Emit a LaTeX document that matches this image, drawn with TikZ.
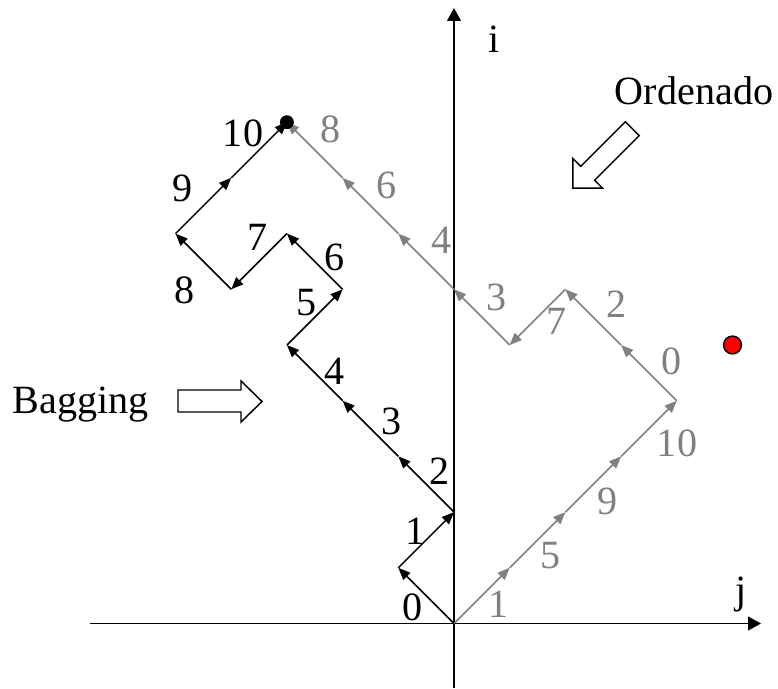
\documentclass[tikz,border=0pt]{standalone}
\usepackage{fontspec}
\setmainfont{Liberation Serif}
\usetikzlibrary{arrows.meta}
\definecolor{grayline}{HTML}{808080}
\begin{document}
\begin{tikzpicture}[x=1cm,y=1cm,
  lbl/.style={inner sep=0pt,font=\fontsize{20.5}{24}\selectfont},
  blab/.style={lbl,text=black},
  glab/.style={lbl,text=grayline},
  axis/.style={line width=1pt,-{Triangle[length=6.6pt,width=7pt]}},
  blkseg/.style={line width=0.8pt,black,-{Triangle[length=6.2pt,width=5pt]}},
  grayseg/.style={line width=0.8pt,grayline,-{Triangle[length=6.2pt,width=5pt]}},
  hollow/.style={line width=0.75pt,draw=black,fill=white}]
\useasboundingbox (-8.151,-1.158) rectangle (5.817,11.194);
% axes
\coordinate (xl) at (-6.535,0);
\coordinate (xr) at (5.512,0);
\coordinate (yb) at (0,-1.158);
\coordinate (yt) at (0,11.05);
\draw[axis] (xl) -- (xr);
\draw[axis] (yb) -- (yt);
\node[lbl,anchor=base] (ilab) at (0.718,10.243) {i};
\node[lbl,anchor=base] (jlab) at (5.153,0.368) {j};
% grid points
\foreach \x/\y [count=\k from 0] in {0/0,-1/1,0/2,-1/3,-2/4,-3/5,-2/6,-3/7,-4/6,-5/7,-4/8,-3/9}
  \coordinate (b\k) at (\x,\y);
\foreach \x/\y [count=\k from 0] in {0/0,1/1,2/2,3/3,4/4,3/5,2/6,1/5,0/6,-1/7,-2/8,-3/9}
  \coordinate (g\k) at (\x,\y);
% gray path
\foreach \k [evaluate=\k as \n using int(\k+1)] in {0,...,10}
  \draw[grayseg] (g\k) -- (g\n);
% black path
\foreach \k [evaluate=\k as \n using int(\k+1)] in {0,...,10}
  \draw[blkseg] (b\k) -- (b\n);
\fill[black] (b11) circle (0.125);
% red point
\coordinate (red) at (5,5);
\draw[line width=0.75pt,fill=red] (red) circle (0.16);
% black labels
\node[blab] (bl0) at (-0.736,0.296) {0};
\node[blab] (bl1) at (-0.682,1.661) {1};
\node[blab] (bl2) at (-0.251,2.738) {2};
\node[blab] (bl3) at (-1.12,3.62) {3};
\node[blab] (bl4) at (-2.136,4.533) {4};
\node[blab] (bl5) at (-2.639,5.754) {5};
\node[blab] (bl6) at (-2.136,6.580) {6};
\node[blab] (bl7) at (-3.519,6.939) {7};
\node[blab] (bl8) at (-4.829,5.988) {8};
\node[blab] (bl9) at (-4.865,7.819) {9};
\node[blab] (bl10) at (-3.788,8.806) {10};
% gray labels
\node[glab] (gl8) at (-2.208,8.878) {8};
\node[glab] (gl6) at (-1.203,7.873) {6};
\node[glab] (gl4) at (-0.215,6.885) {4};
\node[glab] (gl3) at (0.772,5.862) {3};
\node[glab] (gl7) at (1.849,5.431) {7};
\node[glab] (gl2) at (2.926,5.736) {2};
\node[glab] (gl0) at (3.913,4.713) {0};
\node[glab] (gl10) at (4.004,3.241) {10};
\node[glab] (gl9) at (2.765,2.199) {9};
\node[glab] (gl5) at (1.741,1.212) {5};
\node[glab] (gl1) at (0.808,0.350) {1};
% texts
\node[lbl,anchor=base] (bag) at (-6.697,3.779) {Bagging};
\node[lbl,anchor=base] (ord) at (4.309,9.309) {Ordenado};
% hollow arrows
\draw[hollow] (-4.955,4.192) -- (-3.824,4.192) -- (-3.824,4.354) -- (-3.447,3.986)
  -- (-3.824,3.618) -- (-3.824,3.797) -- (-4.955,3.797) -- cycle;
\begin{scope}[shift={(2.136,7.818)}]
\draw[hollow] (0,0) -- (0.53,0) -- (0.39,0.14) -- (1.19,0.94) -- (0.94,1.19)
  -- (0.14,0.39) -- (0,0.53) -- cycle;
\end{scope}
\end{tikzpicture}
\end{document}
